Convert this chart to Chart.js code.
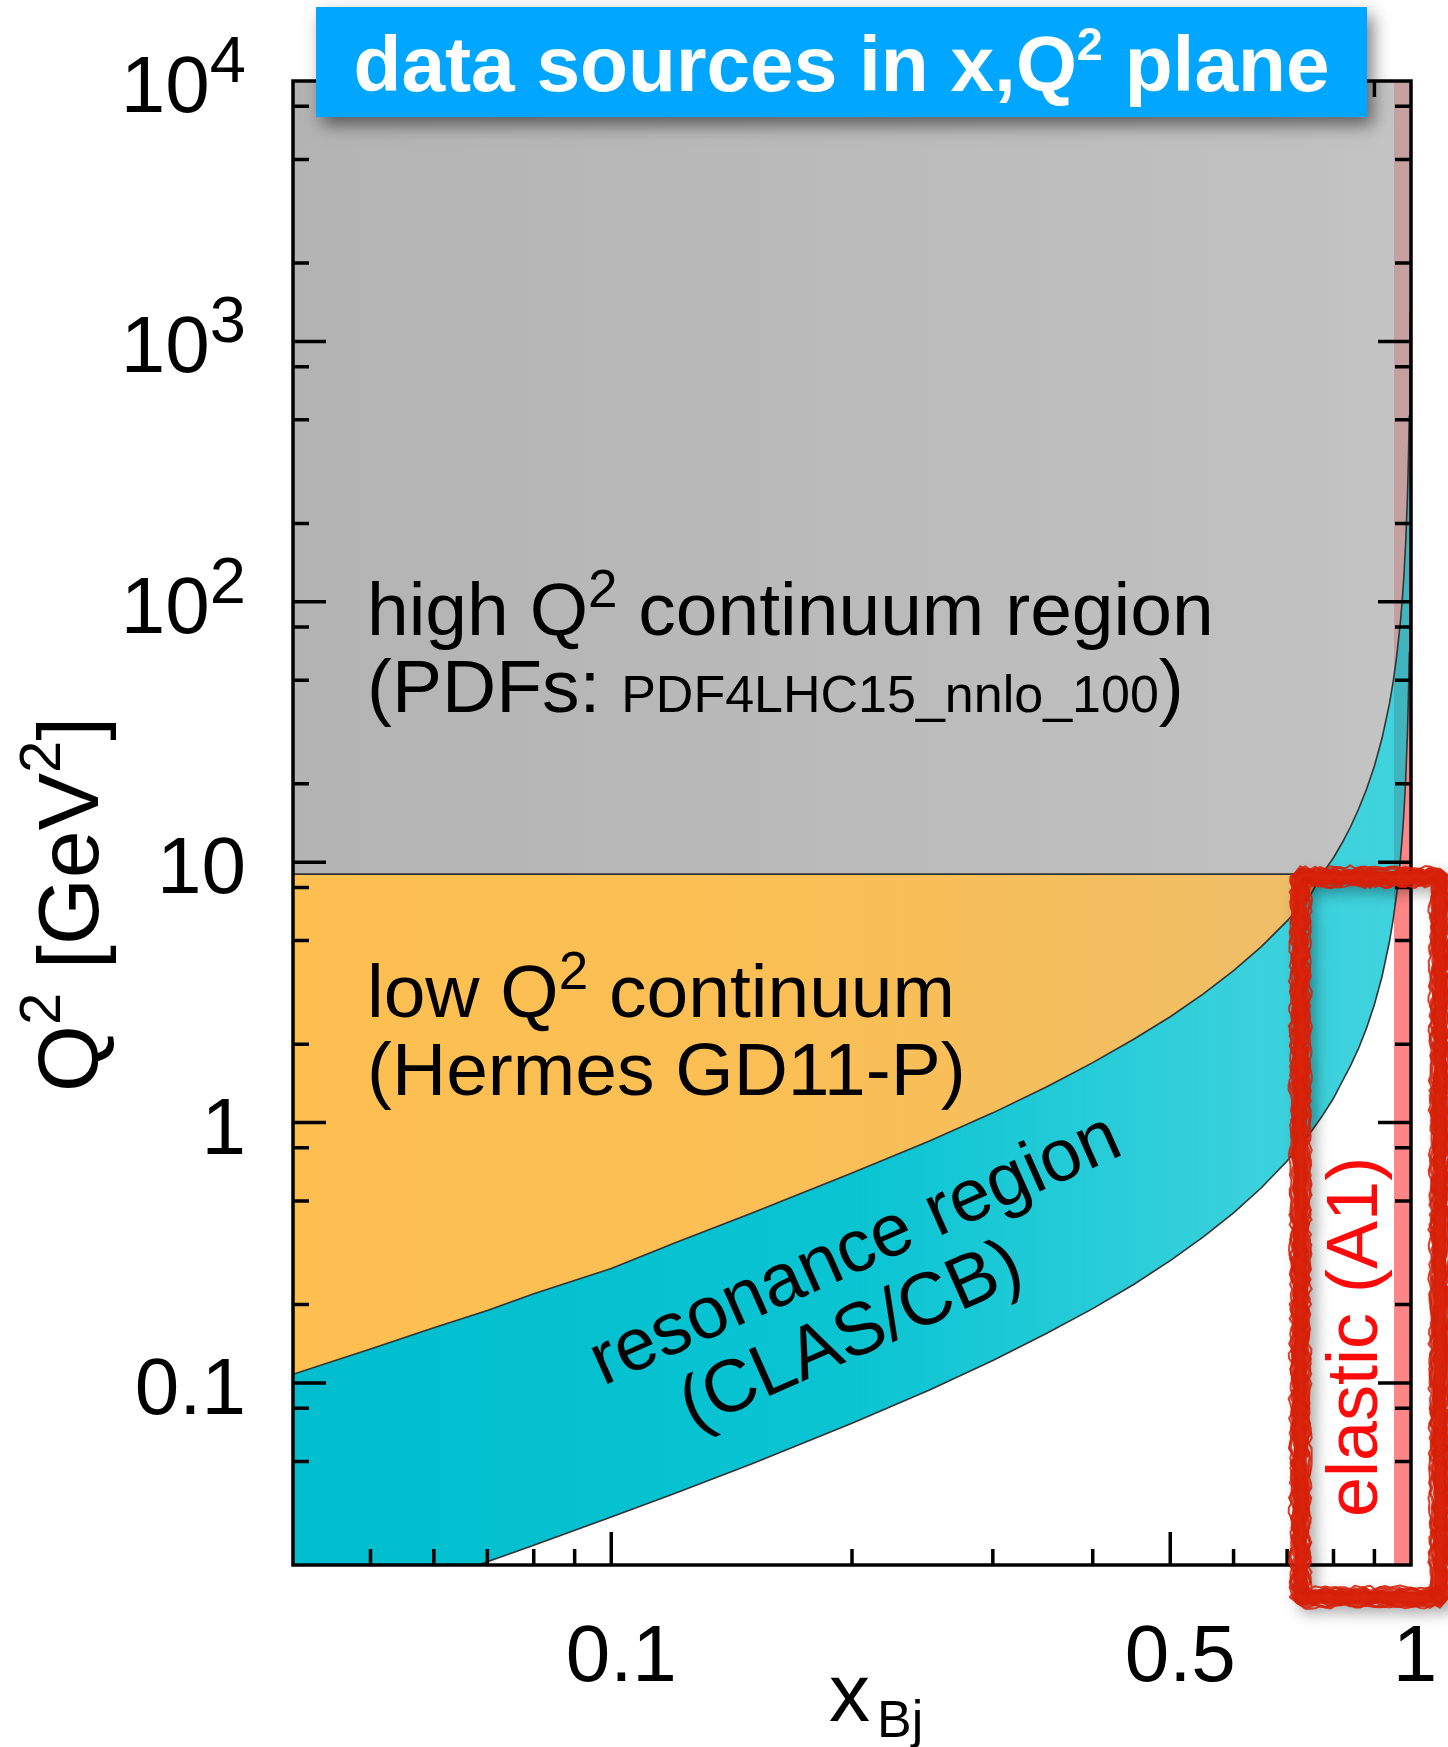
<!DOCTYPE html>
<html>
<head>
<meta charset="utf-8">
<script src="https://cdn.jsdelivr.net/npm/chart.js@4.4.1/dist/chart.umd.min.js"></script>
<style>
html,body{margin:0;padding:0;background:#fff;}
#wrap{width:1448px;height:1747px;position:relative;}
canvas{display:block;}
</style>
</head>
<body>
<div id="wrap"><canvas id="c" width="1448" height="1747"></canvas></div>
<script>
// ---------------- data ----------------
const xGrid   = [0.04, 0.05, 0.06, 0.07, 0.08, 0.1, 0.12, 0.15, 0.2, 0.25, 0.3, 0.35, 0.4, 0.45, 0.5, 0.55, 0.6, 0.65, 0.7, 0.75, 0.774, 0.8, 0.82, 0.84, 0.86, 0.88, 0.9, 0.92, 0.94, 0.95, 0.96, 0.97, 0.975, 0.98, 0.985, 0.99, 0.993, 0.995, 0.997, 0.998, 0.999, 0.9995, 0.9998];
// upper edge of the resonance region (boundary with the continuum)
const upperQ2 = [0.108, 0.135, 0.163, 0.19, 0.22, 0.275, 0.345, 0.45, 0.64, 0.85, 1.09, 1.37, 1.70, 2.09, 2.55, 3.12, 3.83, 4.74, 5.95, 7.55, 9.0, 10.4, 11.85, 13.65, 16.0, 19.1, 23.4, 29.9, 40.7, 49.4, 62.4, 84, 101, 127, 171, 257, 369, 517, 864, 1297, 2597, 5197, 13000];
// lower edge of the resonance region (threshold)
const lowerQ2 = [0.0113, 0.0143, 0.0174, 0.0206, 0.0238, 0.0306, 0.0376, 0.049, 0.07, 0.094, 0.122, 0.155, 0.193, 0.239, 0.295, 0.364, 0.45, 0.562, 0.712, 0.922, 1.057, 1.24, 1.435, 1.65, 1.93, 2.31, 2.84, 3.64, 4.97, 6.03, 7.63, 10.3, 12.4, 15.6, 21, 31.6, 45.2, 63.7, 106, 160, 319, 640, 1600];
const q2Cut = 9;          // high / low Q2 continuum split
const xCut = 0.774;       // where the split meets the upper edge
const elasticBand = [0.952, 1];
const elasticBoxX = [0.727, 1.087];
const elasticBoxQ2 = [0.01505, 8.77];
const xRange = [0.04, 1];
const q2Range = [0.02, 10000];
const xMajorTicks = [0.1, 0.5, 1];
const xMajorLabels = ['0.1', '0.5', '1'];
const xMinorTicks = [0.05, 0.06, 0.07, 0.08, 0.09, 0.2, 0.3, 0.4, 0.6, 0.7, 0.8, 0.9];
const yMajorTicks = [0.1, 1, 10, 100, 1000, 10000];
const yMajorBase = ['0.1', '1', '10', '10', '10', '10'];
const yMajorExp  = ['', '', '', '2', '3', '4'];
const yMinorTicks = [0.05, 0.08, 0.2, 0.5, 0.8, 2, 5, 8, 20, 50, 80, 200, 500, 800, 2000, 5000, 8000];

// ---------------- build datasets ----------------
const upperPts = xGrid.map((x, i) => ({x, y: upperQ2[i]}));
const lowerPts = xGrid.map((x, i) => ({x, y: lowerQ2[i]}));
const orangePts = upperPts.filter(p => p.x <= xCut);
const grayPts = [{x: xRange[0], y: q2Cut}].concat(upperPts.filter(p => p.x >= xCut));
const cutPts = [{x: xRange[0], y: q2Cut}, {x: xCut, y: q2Cut}];
const bandPts = [{x: elasticBand[0], y: q2Range[1]}, {x: elasticBand[1], y: q2Range[1]}];

const FONT = '"Liberation Sans", Arial, Helvetica, sans-serif';

function hGrad(chart, stops) {
  const a = chart.chartArea;
  if (!a) return 'transparent';
  const g = chart.ctx.createLinearGradient(a.left, 0, a.right, 0);
  stops.forEach(s => g.addColorStop(s[0], s[1]));
  return g;
}

const grayFill = (c) => hGrad(c.chart, [[0, 'rgba(147,147,147,0.7)'], [0.9, 'rgba(166,166,166,0.7)'], [1, 'rgba(172,172,172,0.7)']]);
const orangeFill = (c) => hGrad(c.chart, [[0, 'rgb(253,191,80)'], [0.5, 'rgb(250,191,86)'], [1, 'rgb(236,190,108)']]);
const cyanFill = (c) => hGrad(c.chart, [[0, 'rgba(0,190,206,1)'], [0.5, 'rgba(10,196,210,1)'], [0.85, 'rgba(0,196,210,0.78)'], [1, 'rgba(0,196,210,0.75)']]);

const common = {pointRadius: 0, tension: 0, borderWidth: 0, spanGaps: true};

const datasets = [
  Object.assign({}, common, {label: 'elastic', data: bandPts, fill: 'start', backgroundColor: 'rgb(255,134,134)', order: 9}),
  Object.assign({}, common, {label: 'high', data: grayPts, fill: 'end', backgroundColor: grayFill, order: 8}),
  Object.assign({}, common, {label: 'low', data: orangePts, fill: {value: q2Cut}, backgroundColor: orangeFill, order: 7}),
  Object.assign({}, common, {label: 'resonance', data: lowerPts, fill: 4, backgroundColor: cyanFill, borderColor: '#333', borderWidth: 1.6, order: 6}),
  Object.assign({}, common, {label: 'upper', data: upperPts, fill: false, borderColor: '#333', borderWidth: 1.6, order: 2}),
  Object.assign({}, common, {label: 'cut', data: cutPts, fill: false, borderColor: '#333', borderWidth: 1.6, order: 1})
];

function rich(ctx, parts, x, y, align, weight) {
  let w = 0;
  parts.forEach(p => { ctx.font = (weight || '') + ' ' + p[1] + 'px ' + FONT; p.w = ctx.measureText(p[0]).width; w += p.w; });
  let cx = align === 'right' ? x - w : (align === 'center' ? x - w / 2 : x);
  parts.forEach(p => { ctx.font = (weight || '') + ' ' + p[1] + 'px ' + FONT; ctx.fillText(p[0], cx, y + (p[2] || 0)); cx += p.w; });
  return w;
}

function hash(i) { const s = Math.sin(i * 12.9898 + 4.1414) * 43758.5453; return s - Math.floor(s); }

function roughRect(ctx, x0, y0, x1, y1) {
  const edges = [[x0, y0, x1, y0], [x1, y0, x1, y1], [x1, y1, x0, y1], [x0, y1, x0, y0]];
  const passes = [[13, 0, 1], [5, -5.5, 0], [5, 5.5, 0], [3, -8, 0], [3, 8, 0], [2, -9.5, 0], [2, 9.5, 0]];
  let k = 0;
  passes.forEach((ps, pi) => {
    ctx.save();
    if (ps[2]) { ctx.shadowColor = 'rgba(0,0,0,0.45)'; ctx.shadowBlur = 16; ctx.shadowOffsetX = 7; ctx.shadowOffsetY = 7; }
    ctx.beginPath();
    edges.forEach((e, ei) => {
      const [ax, ay, bx, by] = e;
      const len = Math.hypot(bx - ax, by - ay);
      const n = Math.ceil(len / 5);
      const nx = -(by - ay) / len, ny = (bx - ax) / len;
      for (let i = 0; i <= n; i++) {
        const t = i / n;
        const off = ps[1] + (hash(k++) - 0.5) * (pi === 0 ? 3 : 4.5);
        const px = ax + (bx - ax) * t + nx * off, py = ay + (by - ay) * t + ny * off;
        if (ei === 0 && i === 0) ctx.moveTo(px, py); else ctx.lineTo(px, py);
      }
    });
    ctx.closePath();
    ctx.lineWidth = ps[0];
    ctx.lineJoin = 'round';
    ctx.strokeStyle = pi === 0 ? '#d9230b' : 'rgba(214,32,8,0.85)';
    ctx.stroke();
    ctx.restore();
  });
}

const decor = {
  id: 'decor',
  afterDraw(chart) {
    const ctx = chart.ctx;
    const xs = chart.scales.x, ys = chart.scales.y;
    const a = chart.chartArea;
    ctx.save();
    // frame
    ctx.strokeStyle = '#000';
    ctx.lineWidth = 3.5;
    ctx.strokeRect(a.left, a.top, a.right - a.left, a.bottom - a.top);
    // ticks
    const MAJ = 33, MIN = 16;
    ctx.lineWidth = 3.5;
    ctx.beginPath();
    const xt = (v, L) => {
      const p = xs.getPixelForValue(v);
      if (p <= a.left + 2 || p >= a.right - 2) return;
      ctx.moveTo(p, a.bottom); ctx.lineTo(p, a.bottom - L);
      ctx.moveTo(p, a.top); ctx.lineTo(p, a.top + L);
    };
    const yt = (v, L) => {
      const p = ys.getPixelForValue(v);
      if (p <= a.top + 2 || p >= a.bottom - 2) return;
      ctx.moveTo(a.left, p); ctx.lineTo(a.left + L, p);
      ctx.moveTo(a.right, p); ctx.lineTo(a.right - L, p);
    };
    xMajorTicks.forEach(v => xt(v, MAJ));
    xMinorTicks.forEach(v => xt(v, MIN));
    yMajorTicks.forEach(v => yt(v, MAJ));
    yMinorTicks.forEach(v => yt(v, MIN));
    ctx.stroke();

    // tick labels
    ctx.fillStyle = '#000';
    ctx.textBaseline = 'alphabetic';
    yMajorTicks.forEach((v, i) => {
      const p = ys.getPixelForValue(v);
      const parts = [[yMajorBase[i], 80]];
      if (yMajorExp[i]) parts.push([yMajorExp[i], 65, -30]);
      rich(ctx, parts, 246, p + 31, 'right');
    });
    const xOff = [10, 10, 4];
    xMajorTicks.forEach((v, i) => {
      const p = xs.getPixelForValue(v);
      rich(ctx, [[xMajorLabels[i], 80]], p + xOff[i], 1681, 'center');
    });

    // axis titles
    rich(ctx, [['x', 82]], 829, 1721, 'left');
    rich(ctx, [['Bj', 52]], 877, 1737, 'left');
    ctx.save();
    ctx.translate(98, 1092);
    ctx.rotate(-Math.PI / 2);
    rich(ctx, [['Q', 86], ['2', 58, -38], [' [GeV', 86], ['2', 58, -38], [']', 86]], 0, 0, 'left');
    ctx.restore();

    // region labels
    ctx.fillStyle = '#000';
    rich(ctx, [['high Q', 75], ['2', 53, -28], [' continuum region', 75]], 367, 635, 'left');
    rich(ctx, [['(PDFs: ', 75], ['PDF4LHC15_nnlo_100', 52], [')', 75]], 367, 712, 'left');
    rich(ctx, [['low Q', 75], ['2', 53, -28], [' continuum', 75]], 367, 1017, 'left');
    rich(ctx, [['(Hermes GD11-P)', 75]], 367, 1095, 'left');
    ctx.save();
    ctx.translate(603, 1386);
    ctx.rotate(-24 * Math.PI / 180);
    rich(ctx, [['resonance region', 74]], 0, 0, 'left');
    rich(ctx, [['(CLAS/CB)', 74]], 64, 77, 'left');
    ctx.restore();

    // elastic box
    const bx0 = xs.getPixelForValue(elasticBoxX[0]), bx1 = xs.getPixelForValue(elasticBoxX[1]);
    const by0 = ys.getPixelForValue(elasticBoxQ2[1]), by1 = ys.getPixelForValue(elasticBoxQ2[0]);
    roughRect(ctx, bx0, by0, bx1, by1);
    ctx.save();
    ctx.translate(1377, 1517);
    ctx.rotate(-Math.PI / 2);
    ctx.fillStyle = '#ff0a0a';
    rich(ctx, [['elastic (A1)', 72]], 0, 0, 'left');
    ctx.restore();

    // title box
    ctx.save();
    ctx.shadowColor = 'rgba(0,0,0,0.5)';
    ctx.shadowBlur = 16;
    ctx.shadowOffsetX = 6;
    ctx.shadowOffsetY = 8;
    ctx.fillStyle = '#00a6ff';
    ctx.fillRect(316, 7, 1051, 110);
    ctx.restore();
    ctx.save();
    ctx.fillStyle = '#fff';
    const tparts = [['data sources in x,Q', 77], ['2', 46, -31], [' plane', 77]];
    let tw = 0;
    tparts.forEach(p => { ctx.font = 'bold ' + p[1] + 'px ' + FONT; tw += ctx.measureText(p[0]).width; });
    const sx = 976 / tw;
    ctx.translate(841.5, 91);
    ctx.scale(sx, 1);
    rich(ctx, tparts, 0, 0, 'center', 'bold');
    ctx.restore();

    ctx.restore();
  }
};

new Chart(document.getElementById('c'), {
  type: 'line',
  data: {datasets},
  options: {
    responsive: false,
    animation: false,
    devicePixelRatio: 1,
    events: [],
    layout: {padding: {left: 293, top: 81, right: 37, bottom: 182}},
    scales: {
      x: {type: 'logarithmic', min: xRange[0], max: xRange[1], display: false},
      y: {type: 'logarithmic', min: q2Range[0], max: q2Range[1], display: false}
    },
    plugins: {legend: {display: false}, tooltip: {enabled: false}, title: {display: false}}
  },
  plugins: [decor]
});
</script>
</body>
</html>
